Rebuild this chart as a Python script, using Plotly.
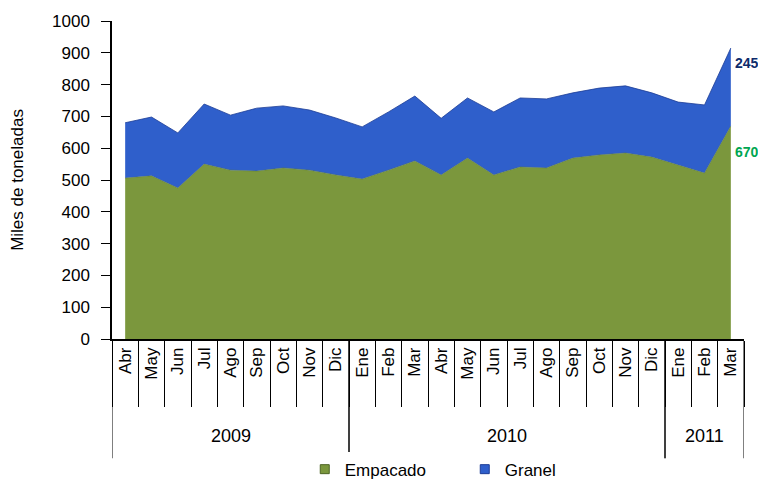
import plotly.graph_objects as go

# categories (month / year)
months = ['Abr', 'May', 'Jun', 'Jul', 'Ago', 'Sep', 'Oct', 'Nov', 'Dic',
          'Ene', 'Feb', 'Mar', 'Abr', 'May', 'Jun', 'Jul', 'Ago', 'Sep', 'Oct', 'Nov', 'Dic',
          'Ene', 'Feb', 'Mar']
years = ['2009'] * 9 + ['2010'] * 12 + ['2011'] * 3

# miles de toneladas
empacado = [506, 513, 475, 550, 531, 528, 538, 531, 516, 503, 531, 560,
            516, 569, 516, 541, 538, 569, 579, 585, 572, 547, 522, 670]
granel = [174, 185, 173, 189, 173, 198, 195, 189, 179, 164, 183, 204,
          178, 189, 198, 217, 217, 205, 210, 211, 202, 198, 214, 245]

green = '#7b973d'
blue = '#2f5fcb'

# unique category keys, shown as month only
cats = [m + ' ' + y for m, y in zip(months, years)]

fig = go.Figure()
fig.add_trace(go.Scatter(
    x=cats, y=empacado, name='Empacado', stackgroup='one', showlegend=False,
    mode='lines', line=dict(width=0.5, color='#5f7a2c'), fillcolor=green))
fig.add_trace(go.Scatter(
    x=cats, y=granel, name='Granel', stackgroup='one', showlegend=False,
    mode='lines', line=dict(width=0.8, color='#1c3c96'), fillcolor=blue))

# small square legend keys like the original
for nm, col, edge in [('Empacado', green, '#4e6424'), ('Granel', blue, '#1c3c96')]:
    fig.add_trace(go.Scatter(x=[None], y=[None], mode='markers', name=nm,
                             marker=dict(symbol='square', size=9, color=col,
                                         line=dict(width=1, color=edge))))

# labels for the last month
n = len(cats) - 1
fig.add_annotation(x=n, y=empacado[-1] + granel[-1], text='<b>245</b>',
                   showarrow=False, xanchor='left', xshift=2, yshift=-15,
                   font=dict(size=14, color='#0d2b6b'))
fig.add_annotation(x=n, y=empacado[-1], text='<b>670</b>',
                   showarrow=False, xanchor='left', xshift=2, yshift=-26,
                   font=dict(size=14, color='#00a651'))

# year groups: labels and dividers
start = 0
groups = []
for i in range(1, len(years) + 1):
    if i == len(years) or years[i] != years[start]:
        groups.append((years[start], start, i - 1))
        start = i
for yr, a, b in groups:
    fig.add_annotation(x=(a + b) / 2, y=-0.305, xref='x', yref='paper', text=yr,
                       yanchor='middle', showarrow=False, font=dict(size=18))
    for edge in (a - 0.5, b + 0.5):
        fig.add_shape(type='line', xref='x', yref='paper', x0=edge, x1=edge,
                      y0=0, y1=-0.375, line=dict(color='black', width=1))

# page body adds 8px all round, so the figure is 750x472 with margins shifted
fig.update_layout(
    width=750, height=472,
    margin=dict(l=104, r=14, t=13, b=141),
    paper_bgcolor='white', plot_bgcolor='white',
    font=dict(family='Liberation Sans, Arial, sans-serif', size=17, color='black'),
    legend=dict(orientation='h', x=0.305, xanchor='left',
                yref='container', y=0.022, yanchor='middle',
                font=dict(size=17), traceorder='normal', entrywidth=115,
                itemwidth=30),
    xaxis=dict(type='category', categoryorder='array', categoryarray=cats,
               tickmode='array', tickvals=cats, ticktext=months, automargin=False,
               showline=True, linecolor='black', linewidth=1.5,
               ticks='outside', tickson='boundaries', ticklen=66, tickcolor='black',
               tickangle=-90, showgrid=False, range=[-0.5, n + 0.5],
               tickfont=dict(size=17)),
    yaxis=dict(range=[0, 1000], dtick=100, showline=True, linecolor='black', linewidth=1.5,
               ticks='outside', ticklen=9, tickcolor='black', showgrid=False,
               zeroline=False, tickfont=dict(size=17), automargin=False,
               ticklabelstandoff=8,
               title=dict(text='Miles de toneladas', font=dict(size=17), standoff=24)),
)

fig.write_html('out.html')
